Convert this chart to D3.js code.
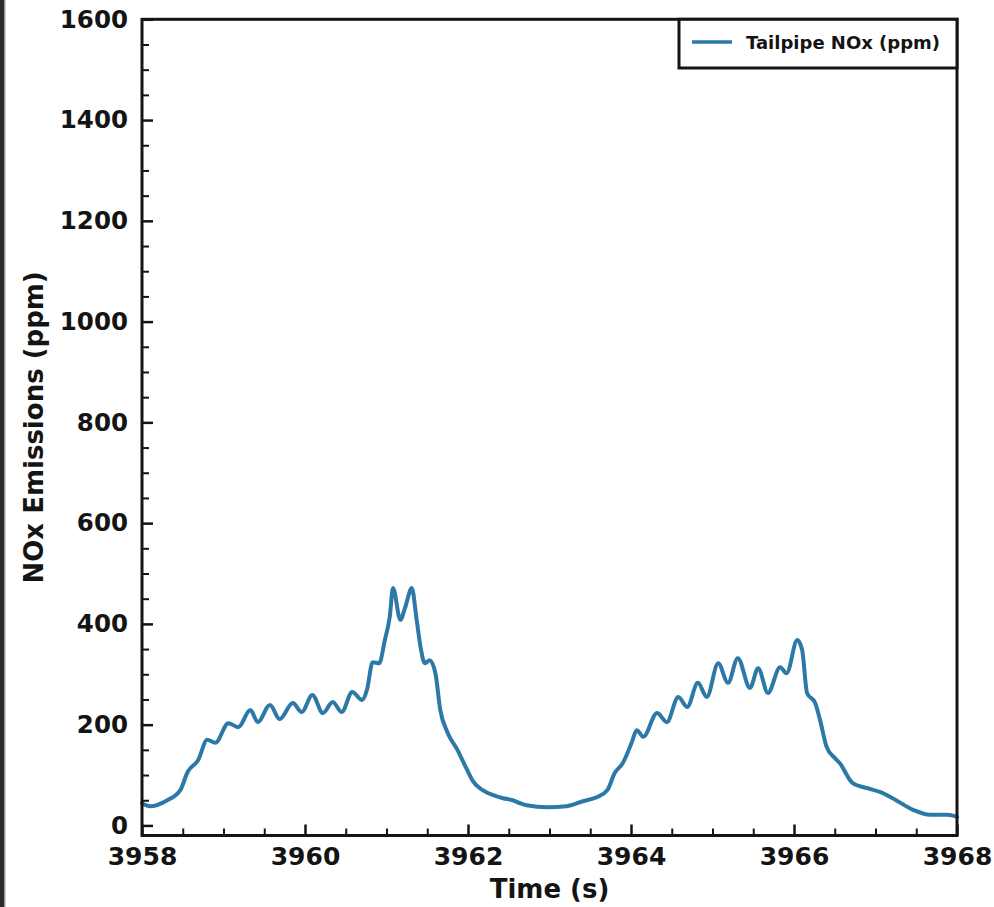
<!DOCTYPE html>
<html>
<head>
<meta charset="utf-8">
<script src="https://cdn.jsdelivr.net/npm/d3@7"></script>
<style>
  html, body { margin: 0; padding: 0; background: #fff; }
  svg { display: block; }
  text { font-family: "DejaVu Sans", sans-serif; font-weight: bold; fill: #141414; }
</style>
</head>
<body>
<svg id="chart" width="994" height="907"></svg>
<script>
// Time stamps (s) of the tailpipe NOx trace
const timeS = [
  3958.00, 3958.10, 3958.31, 3958.47, 3958.56, 3958.69, 3958.80, 3958.90,
  3959.06, 3959.18, 3959.33, 3959.42, 3959.57, 3959.69, 3959.85, 3959.96,
  3960.09, 3960.22, 3960.34, 3960.45, 3960.58, 3960.70, 3960.76, 3960.83,
  3960.91, 3960.98, 3961.04, 3961.08, 3961.17, 3961.23, 3961.31, 3961.37,
  3961.42, 3961.47, 3961.53, 3961.60, 3961.66, 3961.75, 3961.87, 3961.99,
  3962.06, 3962.18, 3962.31, 3962.43, 3962.55, 3962.64, 3962.72, 3962.97,
  3963.21, 3963.41, 3963.58, 3963.71, 3963.80, 3963.90, 3964.01, 3964.07,
  3964.15, 3964.32, 3964.44, 3964.58, 3964.69, 3964.82, 3964.93, 3965.07,
  3965.19, 3965.31, 3965.46, 3965.56, 3965.68, 3965.83, 3965.91, 3966.04,
  3966.10, 3966.16, 3966.26, 3966.32, 3966.40, 3966.50, 3966.56, 3966.72,
  3966.90, 3967.06, 3967.21, 3967.46, 3967.67, 3967.88, 3968.00
];

// Tailpipe NOx concentration (ppm) at each time stamp
const noxPpm = [
  44, 38, 50, 70, 106, 130, 170, 164,
  203, 195, 229, 205, 239, 211, 243, 225,
  259, 223, 245, 225, 265, 249, 269, 324,
  322, 368, 414, 471, 408, 433, 471, 408,
  352, 322, 328, 302, 229, 184, 150, 110,
  88, 70, 60, 54, 50, 44, 40, 36,
  38, 48, 56, 70, 104, 124, 165, 189,
  176, 223, 205, 255, 235, 283, 255, 322,
  283, 332, 273, 312, 263, 314, 302, 368,
  348, 263, 243, 209, 156, 134, 124, 84,
  74, 66, 54, 31, 21, 21, 17
];

const seriesName = "Tailpipe NOx (ppm)";
const xTickValues = [3958, 3960, 3962, 3964, 3966, 3968];
const yTickValues = [0, 200, 400, 600, 800, 1000, 1200, 1400, 1600];
const xLabel = "Time (s)";
const yLabel = "NOx Emissions (ppm)";

const lineColor = "#2c79a8";
const ink = "#141414";

const svg = d3.select("#chart");
const W = 994, H = 907;
const plot = { left: 142, right: 957, top: 19.3, bottom: 835.5 };

// thin dark border strip at the far left edge
svg.append("rect").attr("x", 0).attr("y", 0).attr("width", 4).attr("height", H).attr("fill", "#2b2b2b");
svg.append("rect").attr("x", 4).attr("y", 0).attr("width", 1.5).attr("height", H).attr("fill", "#9a9a9a");

const x = d3.scaleLinear().domain([3958, 3968]).range([plot.left, plot.right]);
const y = d3.scaleLinear().domain([-20, 1600]).range([plot.bottom, plot.top]);

const data = timeS.map((t, i) => ({ t, v: noxPpm[i] }));

// trace
const line = d3.line()
  .x(d => x(d.t))
  .y(d => y(d.v))
  .curve(d3.curveMonotoneX);

svg.append("path")
  .datum(data)
  .attr("d", line)
  .attr("fill", "none")
  .attr("stroke", lineColor)
  .attr("stroke-width", 4)
  .attr("stroke-linejoin", "round")
  .attr("stroke-linecap", "round");

// minor ticks (inward)
const xMinor = d3.range(3958, 3968.001, 0.5).filter(v => !xTickValues.includes(v));
const yMinor = d3.range(0, 1600.001, 50).filter(v => !yTickValues.includes(v));

svg.append("g")
  .attr("transform", `translate(0,${plot.bottom})`)
  .call(d3.axisBottom(x).tickValues(xMinor).tickSize(-7).tickFormat(""))
  .call(g => g.select(".domain").remove())
  .call(g => g.selectAll("line").attr("stroke", ink).attr("stroke-width", 2));

svg.append("g")
  .attr("transform", `translate(${plot.left},0)`)
  .call(d3.axisLeft(y).tickValues(yMinor).tickSize(-7).tickFormat(""))
  .call(g => g.select(".domain").remove())
  .call(g => g.selectAll("line").attr("stroke", ink).attr("stroke-width", 2));

// major ticks and labels
const xAxis = svg.append("g")
  .attr("transform", `translate(0,${plot.bottom})`)
  .call(d3.axisBottom(x).tickValues(xTickValues).tickSize(-11).tickPadding(12).tickFormat(d3.format("d")));
xAxis.select(".domain").remove();
xAxis.selectAll("line").attr("stroke", ink).attr("stroke-width", 2.5);
xAxis.selectAll("text")
  .attr("font-family", "DejaVu Sans")
  .attr("font-weight", "bold")
  .attr("font-size", 25)
  .attr("fill", ink);

const yAxis = svg.append("g")
  .attr("transform", `translate(${plot.left},0)`)
  .call(d3.axisLeft(y).tickValues(yTickValues).tickSize(-11).tickPadding(14).tickFormat(d3.format("d")));
yAxis.select(".domain").remove();
yAxis.selectAll("line").attr("stroke", ink).attr("stroke-width", 2.5);
yAxis.selectAll("text")
  .attr("font-family", "DejaVu Sans")
  .attr("font-weight", "bold")
  .attr("font-size", 24.5)
  .attr("fill", ink);

// plot frame
svg.append("rect")
  .attr("x", plot.left).attr("y", plot.top)
  .attr("width", plot.right - plot.left).attr("height", plot.bottom - plot.top)
  .attr("fill", "none").attr("stroke", ink).attr("stroke-width", 3);

// axis titles
svg.append("text")
  .attr("x", (plot.left + plot.right) / 2)
  .attr("y", 898)
  .attr("text-anchor", "middle")
  .attr("font-size", 26)
  .text(xLabel);

svg.append("text")
  .attr("transform", `translate(43,${(plot.top + plot.bottom) / 2}) rotate(-90)`)
  .attr("text-anchor", "middle")
  .attr("font-size", 26)
  .text(yLabel);

// legend, tucked into the upper-right corner
const legend = svg.append("g");
legend.append("rect")
  .attr("x", 679).attr("y", plot.top)
  .attr("width", plot.right - 679).attr("height", 68 - plot.top)
  .attr("fill", "#fff").attr("stroke", ink).attr("stroke-width", 3);
legend.append("line")
  .attr("x1", 692).attr("x2", 732).attr("y1", 42).attr("y2", 42)
  .attr("stroke", lineColor).attr("stroke-width", 3.6);
legend.append("text")
  .attr("x", 746).attr("y", 48.5)
  .attr("font-size", 18)
  .text(seriesName);
</script>
</body>
</html>
